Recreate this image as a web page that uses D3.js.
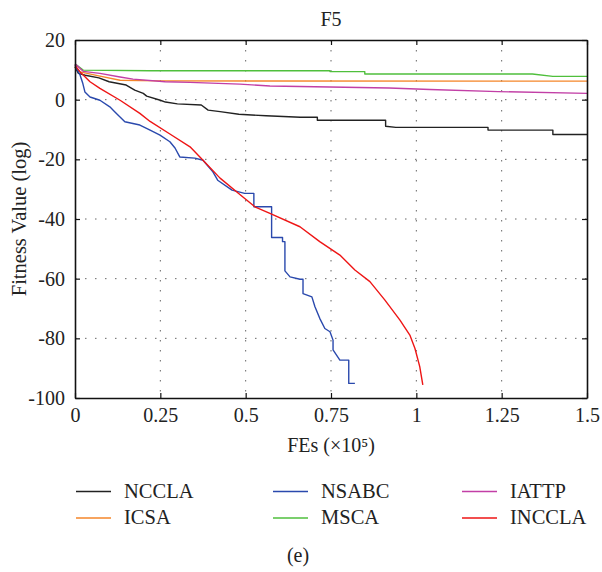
<!DOCTYPE html>
<html>
<head>
<meta charset="utf-8">
<script src="https://cdn.jsdelivr.net/npm/d3@7"></script>
<style>
  html, body { margin: 0; padding: 0; background: #fff; }
  svg { display: block; }
  text { font-family: "Liberation Serif", "Times New Roman", serif; fill: #222; }
</style>
</head>
<body>
<svg id="chart" width="602" height="572"></svg>
<script>
// ---- data (x in units of 10^5 FEs, y = log fitness) ----
const title = "F5";
const xLabel = "FEs (×10⁵)";
const yLabel = "Fitness Value (log)";
const caption = "(e)";
const xTicks = [0, 0.25, 0.5, 0.75, 1, 1.25, 1.5];
const yTicks = [-100, -80, -60, -40, -20, 0, 20];
const seriesNames = ["NCCLA", "NSABC", "IATTP", "ICSA", "MSCA", "INCCLA"];
const seriesColors = ["#222222", "#2a49ad", "#c23fa6", "#f5862a", "#4fbf3c", "#ee1515"];

const NCCLA = [[0,11],[0.01,8.8],[0.03,8.2],[0.07,7.3],[0.10,6.0],[0.15,4.9],[0.175,3.2],[0.20,2.1],[0.21,1.2],
  [0.25,-0.2],[0.265,-0.8],[0.30,-1.4],[0.37,-1.8],[0.39,-3.5],[0.425,-4.0],[0.48,-4.9],[0.56,-5.4],[0.66,-5.9],
  [0.71,-5.9],[0.71,-6.9],[0.91,-6.9],[0.91,-8.9],[0.94,-9.3],[1.21,-9.3],[1.21,-10.2],[1.40,-10.2],[1.40,-11.7],[1.5,-11.7]];
const NSABC = [[0,11.5],[0.015,8.2],[0.023,5.4],[0.029,2.6],[0.044,0.9],[0.073,-0.2],[0.102,-2.4],[0.117,-4.1],
  [0.146,-7.4],[0.19,-8.5],[0.22,-10.2],[0.249,-11.9],[0.278,-14.1],[0.293,-16.2],[0.307,-19.2],[0.351,-19.6],
  [0.375,-20.3],[0.404,-24.2],[0.418,-27],[0.46,-30.3],[0.497,-31.4],[0.524,-31.4],[0.524,-35.9],[0.576,-35.9],
  [0.576,-46.2],[0.608,-46.2],[0.608,-47.6],[0.615,-47.6],[0.615,-57.4],[0.63,-59.4],[0.659,-60.2],[0.668,-60.2],
  [0.668,-65],[0.694,-66.1],[0.703,-69.4],[0.717,-73.3],[0.732,-76.7],[0.747,-77.8],[0.756,-80.6],[0.756,-83.9],
  [0.776,-87.3],[0.802,-87.3],[0.802,-95.1],[0.82,-95.1]];
const IATTP = [[0,12],[0.024,9.5],[0.073,8.8],[0.132,7.6],[0.17,6.9],[0.264,6.0],[0.337,5.8],[0.483,5.2],
  [0.571,4.6],[0.659,4.4],[0.92,3.9],[1.04,3.4],[1.24,2.7],[1.5,2.1]];
const ICSA = [[0,11],[0.015,9.3],[0.073,7.9],[0.132,6.5],[0.25,6.3],[1.5,6.2]];
const MSCA = [[0,12],[0.024,9.9],[0.22,9.7],[0.747,9.7],[0.747,9.4],[0.849,9.4],[0.849,8.6],[1.34,8.6],[1.40,7.8],[1.5,7.8]];
const INCCLA = [[0,11.5],[0.015,9.3],[0.044,6.0],[0.073,3.8],[0.132,-0.2],[0.19,-4.6],[0.22,-7.3],[0.278,-11.5],
  [0.337,-15.8],[0.375,-20.3],[0.425,-26.3],[0.483,-31.8],[0.527,-35.9],[0.571,-38.1],[0.659,-42.6],[0.717,-47.6],
  [0.776,-52.1],[0.82,-57.1],[0.864,-61],[0.908,-67.2],[0.952,-73.9],[0.981,-78.9],[0.996,-83.4],[1.010,-89.5],[1.019,-95.6]];

const seriesData = [NCCLA, NSABC, IATTP, ICSA, MSCA, INCCLA];
const drawOrder = [4, 3, 2, 0, 1, 5];

// ---- layout ----
const svg = d3.select("#chart");
const L = 75, R = 587, T = 40, B = 398;
const x = d3.scaleLinear().domain([0, 1.5]).range([L, R]);
const y = d3.scaleLinear().domain([-100, 20]).range([B, T]);
const fs = 20;

// grid
const grid = svg.append("g").attr("stroke", "#666").attr("stroke-width", 1).attr("stroke-dasharray", "1.5,8.5");
grid.selectAll("line.vx").data(xTicks.slice(1, -1)).join("line")
  .attr("x1", d => x(d)).attr("x2", d => x(d)).attr("y1", T).attr("y2", B);
grid.selectAll("line.hy").data(yTicks.slice(1, -1)).join("line")
  .attr("x1", L).attr("x2", R).attr("y1", d => y(d)).attr("y2", d => y(d));

// series
const line = d3.line().x(d => x(d[0])).y(d => y(d[1]));
const gl = svg.append("g").attr("fill", "none").attr("stroke-width", 1.4).attr("stroke-linejoin", "round");
drawOrder.forEach(i => {
  gl.append("path").datum(seriesData[i]).attr("d", line).attr("stroke", seriesColors[i]);
});

// axes
const fmt = d => String(d);
const ax = svg.append("g").attr("transform", `translate(0,${B})`)
  .call(d3.axisBottom(x).tickValues(xTicks).tickFormat(fmt).tickSizeInner(-5).tickSizeOuter(0).tickPadding(10));
const ay = svg.append("g").attr("transform", `translate(${L},0)`)
  .call(d3.axisLeft(y).tickValues(yTicks).tickFormat(fmt).tickSizeInner(-5).tickSizeOuter(0).tickPadding(10));
const axT = svg.append("g").attr("transform", `translate(0,${T})`)
  .call(d3.axisTop(x).tickValues(xTicks).tickFormat("").tickSizeInner(-5).tickSizeOuter(0));
const ayR = svg.append("g").attr("transform", `translate(${R},0)`)
  .call(d3.axisRight(y).tickValues(yTicks).tickFormat("").tickSizeInner(-5).tickSizeOuter(0));
[ax, ay, axT, ayR].forEach(g => {
  g.attr("font-family", null).attr("font-size", null);
  g.select(".domain").attr("stroke", "#111").attr("stroke-width", 1.6);
  g.selectAll(".tick line").attr("stroke", "#111").attr("stroke-width", 1.2);
  g.selectAll("text").attr("font-size", fs).attr("fill", "#222");
});

// titles
svg.append("text").attr("x", (L + R) / 2).attr("y", 26).attr("text-anchor", "middle").attr("font-size", 20).text(title);
svg.append("text").attr("x", (L + R) / 2).attr("y", 452).attr("text-anchor", "middle").attr("font-size", fs).text(xLabel);
svg.append("text").attr("transform", `translate(26,${(T + B) / 2}) rotate(-90)`).attr("text-anchor", "middle")
  .attr("font-size", 20.5).text(yLabel);

// legend
const legCols = [76, 273, 462];
const legRows = [491.5, 518];
seriesNames.forEach((name, k) => {
  const cx = legCols[k % 3], cy = legRows[Math.floor(k / 3)];
  svg.append("line").attr("x1", cx).attr("x2", cx + 35).attr("y1", cy).attr("y2", cy)
    .attr("stroke", seriesColors[k]).attr("stroke-width", 1.6);
  svg.append("text").attr("x", cx + 48).attr("y", cy + 6).attr("font-size", 20.5).text(name);
});

svg.append("text").attr("x", 298).attr("y", 562).attr("text-anchor", "middle").attr("font-size", fs).text(caption);
</script>
</body>
</html>
